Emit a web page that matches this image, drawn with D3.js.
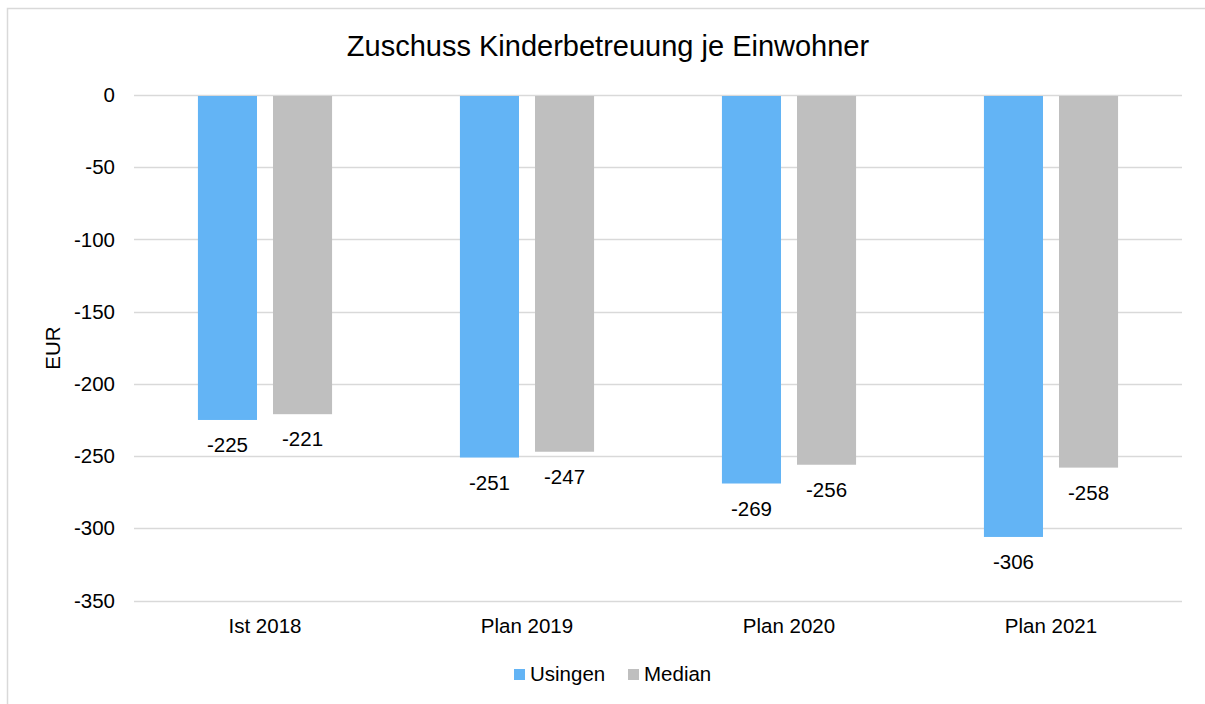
<!DOCTYPE html>
<html>
<head>
<meta charset="utf-8">
<script src="https://cdn.jsdelivr.net/npm/d3@7"></script>
<style>
  html, body { margin: 0; padding: 0; background: #fff; }
  svg text { font-family: "Liberation Sans", Arial, sans-serif; fill: #000; }
</style>
</head>
<body>
<svg id="chart" width="1205" height="704"></svg>
<script>
// Zuschuss Kinderbetreuung je Einwohner (EUR)
const categories = ["Ist 2018", "Plan 2019", "Plan 2020", "Plan 2021"];
const seriesNames = ["Usingen", "Median"];
const usingen = [-225, -251, -269, -306];
const median = [-221, -247, -256, -258];
const yTicks = [0, -50, -100, -150, -200, -250, -300, -350];
const seriesColors = ["#63b4f5", "#bfbfbf"];

const seriesValues = [usingen, median];

const svg = d3.select("#chart");

// chart frame
svg.append("rect")
  .attr("x", 7.5).attr("y", 8.5)
  .attr("width", 1210).attr("height", 710)
  .attr("fill", "#fff")
  .attr("stroke", "#d9d9d9").attr("stroke-width", 1.5);

const plot = { left: 134, right: 1182, top: 95, bottom: 600.5 };

const y = d3.scaleLinear().domain([-350, 0]).range([plot.bottom, plot.top]);
const x = d3.scaleBand().domain(categories).range([plot.left, plot.right]).padding(0);

const bw = x.bandwidth();
const groupW = bw * 0.512;
const xs = d3.scaleBand().domain(seriesNames)
  .range([(bw - groupW) / 2, (bw + groupW) / 2])
  .paddingInner(0.213).paddingOuter(0);

// gridlines
svg.append("g").selectAll("line").data(yTicks).join("line")
  .attr("x1", plot.left).attr("x2", plot.right)
  .attr("y1", d => Math.round(y(d)) + 0.5).attr("y2", d => Math.round(y(d)) + 0.5)
  .attr("stroke", "#d9d9d9").attr("stroke-width", 1.5);

// y tick labels
svg.append("g").selectAll("text").data(yTicks).join("text")
  .attr("x", 115).attr("y", d => y(d))
  .attr("dy", "0.35em")
  .attr("text-anchor", "end")
  .attr("font-size", 20.5)
  .text(d => d);

// bars
const groups = svg.append("g").selectAll("g").data(categories).join("g")
  .attr("transform", c => `translate(${x(c)},0)`);

groups.each(function (c, i) {
  const g = d3.select(this);
  seriesNames.forEach((s, j) => {
    const v = seriesValues[j][i];
    g.append("rect")
      .attr("x", xs(s)).attr("width", xs.bandwidth())
      .attr("y", y(0) + 1).attr("height", y(v) - y(0) - 1)
      .attr("fill", seriesColors[j]);
    g.append("text")
      .attr("x", xs(s) + xs.bandwidth() / 2)
      .attr("y", y(v) + 32)
      .attr("text-anchor", "middle")
      .attr("font-size", 20.5)
      .text(v);
  });
});

// category labels
svg.append("g").selectAll("text").data(categories).join("text")
  .attr("x", c => x(c) + bw / 2).attr("y", 633)
  .attr("text-anchor", "middle")
  .attr("font-size", 20.5)
  .text(c => c);

// title
svg.append("text")
  .attr("x", 608).attr("y", 56)
  .attr("text-anchor", "middle")
  .attr("font-size", 29)
  .text("Zuschuss Kinderbetreuung je Einwohner");

// y axis title
svg.append("text")
  .attr("transform", "translate(60,348) rotate(-90)")
  .attr("text-anchor", "middle")
  .attr("font-size", 20.5)
  .text("EUR");

// legend
const legend = svg.append("g");
const legendItems = [
  { name: seriesNames[0], color: seriesColors[0], x: 514 },
  { name: seriesNames[1], color: seriesColors[1], x: 628 }
];
legendItems.forEach(d => {
  legend.append("rect").attr("x", d.x).attr("y", 669)
    .attr("width", 11).attr("height", 11).attr("fill", d.color);
  legend.append("text").attr("x", d.x + 16).attr("y", 681)
    .attr("font-size", 20.5).text(d.name);
});
</script>
</body>
</html>
